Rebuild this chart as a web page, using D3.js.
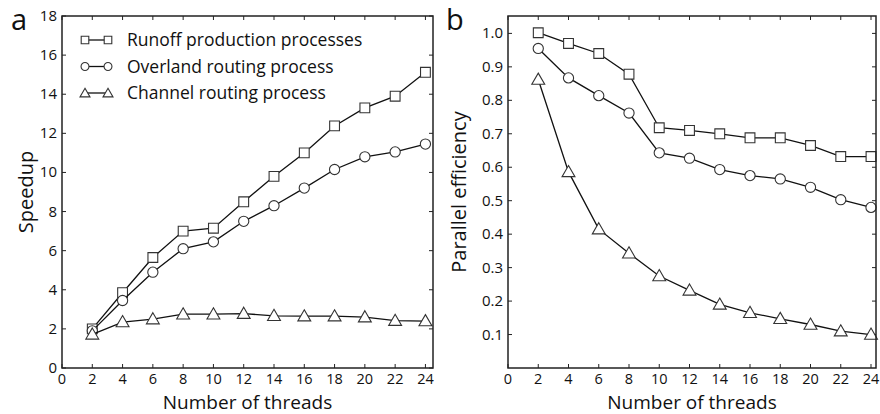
<!DOCTYPE html>
<html><head><meta charset="utf-8">
<script src="https://cdn.jsdelivr.net/npm/d3@7"></script>
<style>body{margin:0;background:#fff}svg{display:block}text{font-family:"Open Sans","Noto Sans",sans-serif;fill:#111}</style>
</head><body>
<svg id="c" width="880" height="414"></svg>
<script>
const threads = [2,4,6,8,10,12,14,16,18,20,22,24];
const speedRunoff   = [2.0,3.85,5.65,7.0,7.15,8.5,9.8,11.0,12.38,13.3,13.9,15.12];
const speedOverland = [1.9,3.45,4.9,6.1,6.45,7.5,8.3,9.2,10.15,10.8,11.05,11.45];
const speedChannel  = [1.72,2.35,2.5,2.75,2.75,2.78,2.67,2.65,2.65,2.6,2.42,2.4];
const effRunoff   = [1.002,0.97,0.94,0.878,0.718,0.71,0.70,0.688,0.688,0.665,0.632,0.632];
const effOverland = [0.955,0.867,0.814,0.762,0.643,0.627,0.593,0.575,0.565,0.54,0.503,0.48];
const effChannel  = [0.862,0.586,0.415,0.343,0.275,0.232,0.19,0.165,0.147,0.13,0.11,0.10];
const seriesNames = ["Runoff production processes","Overland routing process","Channel routing process"];
const xTicks = [0,2,4,6,8,10,12,14,16,18,20,22,24];
const speedTicks = [0,2,4,6,8,10,12,14,16,18];
const effTicks = [0.1,0.2,0.3,0.4,0.5,0.6,0.7,0.8,0.9,1.0];

const svg = d3.select("#c");
const shapes = [d3.symbolSquare, d3.symbolCircle, d3.symbolTriangle];
const sizes = [96, 82, 72];

function panel(o){
  const g = svg.append("g");
  const x = d3.scaleLinear().domain(o.xd).range([o.l,o.r]);
  const y = d3.scaleLinear().domain(o.yd).range([o.b,o.t]);
  const tl = 4;
  xTicks.forEach(v=>{
    g.append("line").attr("x1",x(v)).attr("x2",x(v)).attr("y1",o.b).attr("y2",o.b-tl).attr("stroke","#222");
    g.append("line").attr("x1",x(v)).attr("x2",x(v)).attr("y1",o.t).attr("y2",o.t+tl).attr("stroke","#222");
    g.append("text").attr("x",x(v)).attr("y",o.b+15.5).attr("text-anchor","middle").attr("font-size",14.5).text(v);
  });
  o.yt.forEach(v=>{
    g.append("line").attr("x1",o.l).attr("x2",o.l+tl).attr("y1",y(v)).attr("y2",y(v)).attr("stroke","#222");
    g.append("line").attr("x1",o.r).attr("x2",o.r-tl).attr("y1",y(v)).attr("y2",y(v)).attr("stroke","#222");
    g.append("text").attr("x",o.l-5).attr("y",y(v)+5).attr("text-anchor","end").attr("font-size",15).text(o.fmt(v));
  });
  const line = d3.line().x((d,i)=>x(threads[i])).y(d=>y(d));
  o.series.forEach((s,k)=>{
    g.append("path").attr("d",line(s)).attr("fill","none").attr("stroke","#111").attr("stroke-width",1.3);
    s.forEach((d,i)=>{
      g.append("path").attr("d",d3.symbol().type(shapes[k]).size(sizes[k])())
        .attr("transform",`translate(${x(threads[i])},${y(d)+(k==2?1:0)})`)
        .attr("fill","#fff").attr("stroke","#333").attr("stroke-width",1.1);
    });
  });
  g.append("rect").attr("x",o.l).attr("y",o.t).attr("width",o.r-o.l).attr("height",o.b-o.t)
    .attr("fill","none").attr("stroke","#222").attr("stroke-width",1.5);
  g.append("text").attr("x",(o.l+o.r)/2).attr("y",408.5).attr("text-anchor","middle").attr("font-size",19).text("Number of threads");
  g.append("text").attr("transform",`translate(${o.yl},${(o.t+o.b)/2}) rotate(-90)`).attr("text-anchor","middle").attr("font-size",20).text(o.ylab);
  g.append("text").attr("x",o.px).attr("y",30).attr("font-size",29).text(o.letter);
  return {g,x,y};
}

const A = panel({l:62,r:433,t:16,b:368,xd:[0,24.5],yd:[0,18],yt:speedTicks,fmt:d=>d,
  series:[speedRunoff,speedOverland,speedChannel],ylab:"Speedup",yl:33,letter:"a",px:11});
panel({l:508,r:876,t:16,b:368,xd:[0,24.33],yd:[0,1.052],yt:effTicks,fmt:d3.format(".1f"),
  series:[effRunoff,effOverland,effChannel],ylab:"Parallel efficiency",yl:466,letter:"b",px:446});

seriesNames.forEach((n,k)=>{
  const yy = 40 + k*26.5;
  A.g.append("line").attr("x1",85).attr("x2",108).attr("y1",yy).attr("y2",yy).attr("stroke","#111").attr("stroke-width",1.3);
  [85,108].forEach(xx=>A.g.append("path").attr("d",d3.symbol().type(shapes[k]).size(sizes[k]*0.6)())
    .attr("transform",`translate(${xx},${yy+(k==2?1:0)})`).attr("fill","#fff").attr("stroke","#333").attr("stroke-width",1.1));
  A.g.append("text").attr("x",127).attr("y",yy+6).attr("font-size",17.5).text(n);
});
</script>
</body></html>
